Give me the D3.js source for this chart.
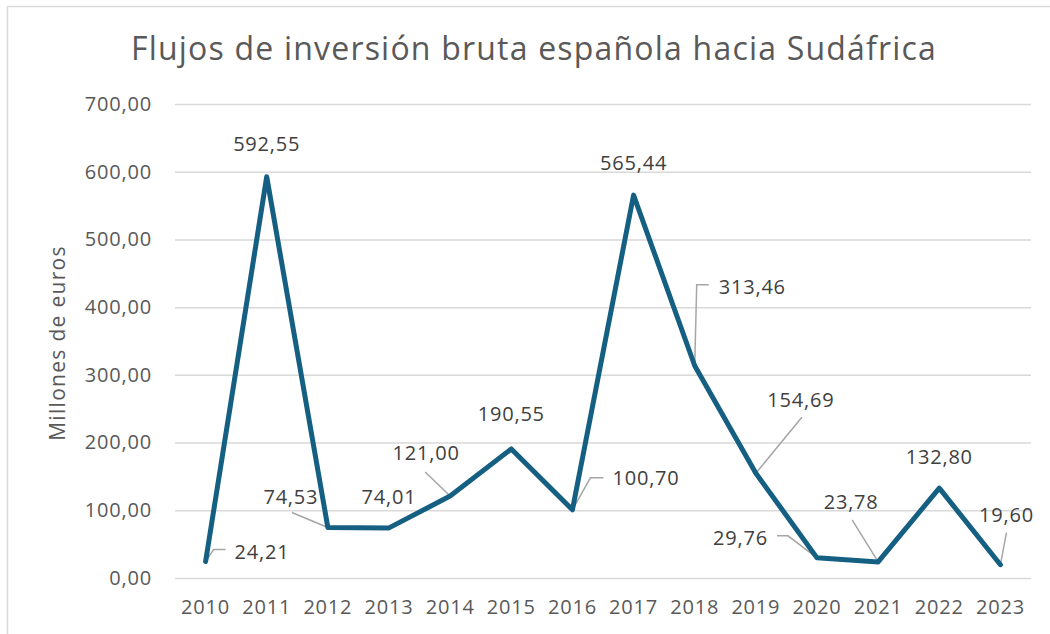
<!DOCTYPE html>
<html>
<head>
<meta charset="utf-8">
<script src="https://cdn.jsdelivr.net/npm/d3@7"></script>
<style>
  body { margin: 0; background: #fff; }
  svg { display: block; font-family: "Open Sans", sans-serif; }
</style>
</head>
<body>
<div id="chart"></div>
<script>
// data
let years = ['2010','2011','2012','2013','2014','2015','2016','2017','2018','2019','2020','2021','2022','2023'];
let values = [24.21, 592.55, 74.53, 74.01, 121.00, 190.55, 100.70, 565.44, 313.46, 154.69, 29.76, 23.78, 132.80, 19.60];
let yTicks = [0, 100, 200, 300, 400, 500, 600, 700];

// where each data label sits relative to its point: [dx, dy, anchor, leader bends]
let labelPlace = [
    [29, -10, 'start', [[8,-12],[20,-12]]],
    [0, -33, 'middle', null],
    [-37, -31, 'middle', [[-36,-15]]],
    [0, -31, 'middle', null],
    [-24, -43, 'middle', [[-25,-24]]],
    [0, -35, 'middle', null],
    [40, -32, 'start', [[18,-32],[31,-32]]],
    [0, -32, 'middle', null],
    [24, -79, 'start', [[2,-81],[14,-81]]],
    [45, -73, 'middle', [[46,-56]]],
    [-49, -20, 'end', [[-29,-22],[-40,-22]]],
    [-27, -60, 'middle', [[-26,-42]]],
    [0, -31, 'middle', null],
    [6, -50, 'middle', [[6,-32]]]
];

let width = 1050, height = 634;
let fmt = v => v.toFixed(2).replace('.', ',');

let svg = d3.select('#chart').append('svg').attr('width', width).attr('height', height);

// chart frame (runs off the right and bottom of the shot)
svg.append('rect')
    .attr('x', 7.5).attr('y', 6.5)
    .attr('width', 1100).attr('height', 700)
    .attr('fill', '#fff')
    .attr('stroke', '#d9d9d9')
    .attr('stroke-width', 1.5);

svg.append('text')
    .attr('x', 534).attr('y', 60)
    .attr('text-anchor', 'middle')
    .attr('font-size', 32)
    .attr('letter-spacing', 1.2)
    .attr('fill', '#595959')
    .text('Flujos de inversión bruta española hacia Sudáfrica');

let plot = {left: 175, right: 1031, top: 104, bottom: 578};

let x = d3.scaleBand().domain(years).range([plot.left, plot.right]);
let y = d3.scaleLinear().domain([0, 700]).range([plot.bottom, plot.top]);

let yAxis = svg.append('g')
    .attr('transform', `translate(${plot.left},0)`)
    .call(d3.axisLeft(y).tickValues(yTicks).tickFormat(fmt)
        .tickSizeInner(-(plot.right - plot.left)).tickSizeOuter(0).tickPadding(23));
yAxis.select('.domain').remove();
yAxis.selectAll('line').attr('stroke', '#d9d9d9').attr('stroke-width', 1.5);
yAxis.selectAll('text').attr('font-size', 20).attr('fill', '#595959')
    .attr('font-family', '"Open Sans", sans-serif').attr('letter-spacing', 0.8);

let xAxis = svg.append('g')
    .attr('transform', `translate(0,${plot.bottom})`)
    .call(d3.axisBottom(x).tickSize(0).tickPadding(22));
xAxis.select('.domain').remove();
xAxis.selectAll('text').attr('font-size', 20).attr('fill', '#595959')
    .attr('font-family', '"Open Sans", sans-serif').attr('letter-spacing', 0.8);

svg.append('text')
    .attr('transform', `translate(65,${(plot.top + plot.bottom) / 2 + 2}) rotate(-90)`)
    .attr('text-anchor', 'middle')
    .attr('font-size', 21)
    .attr('letter-spacing', 1.3)
    .attr('fill', '#595959')
    .text('Millones de euros');

let px = i => x(years[i]) + x.bandwidth() / 2;
let py = i => y(values[i]);

// leader lines under the series line
svg.append('g').selectAll('path')
    .data(labelPlace.map((p, i) => [i, p]).filter(d => d[1][3]))
    .join('path')
    .attr('d', ([i, p]) => d3.line()([[px(i), py(i)], ...p[3].map(b => [px(i) + b[0], py(i) + b[1]])]))
    .attr('fill', 'none')
    .attr('stroke', '#a6a6a6')
    .attr('stroke-width', 1.5);

svg.append('path')
    .datum(values)
    .attr('d', d3.line().x((d, i) => px(i)).y((d, i) => py(i)))
    .attr('fill', 'none')
    .attr('stroke', '#156082')
    .attr('stroke-width', 5)
    .attr('stroke-linejoin', 'round')
    .attr('stroke-linecap', 'round');

svg.append('g').selectAll('text')
    .data(values)
    .join('text')
    .attr('x', (d, i) => px(i) + labelPlace[i][0])
    .attr('y', (d, i) => py(i) + labelPlace[i][1])
    .attr('dy', '0.35em')
    .attr('text-anchor', (d, i) => labelPlace[i][2])
    .attr('font-size', 20)
    .attr('letter-spacing', 0.8)
    .attr('fill', '#404040')
    .text(fmt);
</script>
</body>
</html>
